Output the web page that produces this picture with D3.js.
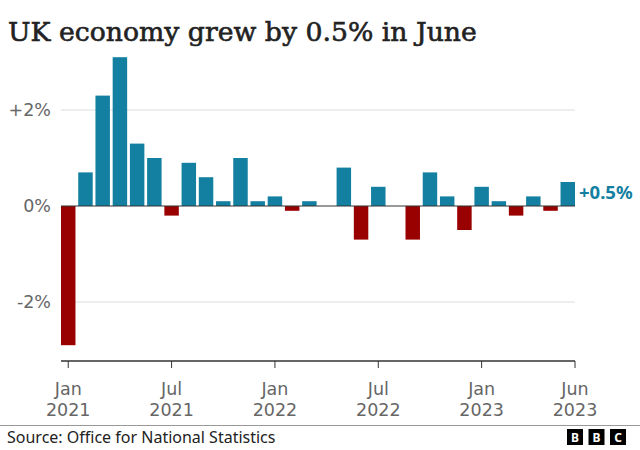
<!DOCTYPE html>
<html><head><meta charset="utf-8">
<script src="https://cdn.jsdelivr.net/npm/d3@7"></script>
<style>
html,body{margin:0;padding:0;background:#fff;}
svg{display:block;}
</style></head>
<body>
<svg id="chart" width="640" height="450"></svg>
<script>
// Monthly GDP growth, Jan 2021 – Jun 2023 (%)
const months = ["2021-01","2021-02","2021-03","2021-04","2021-05","2021-06","2021-07","2021-08","2021-09","2021-10","2021-11","2021-12",
                "2022-01","2022-02","2022-03","2022-04","2022-05","2022-06","2022-07","2022-08","2022-09","2022-10","2022-11","2022-12",
                "2023-01","2023-02","2023-03","2023-04","2023-05","2023-06"];
const growth = [-2.9, 0.7, 2.3, 3.1, 1.3, 1.0, -0.2, 0.9, 0.6, 0.1, 1.0, 0.1,
                0.2, -0.1, 0.1, 0.0, 0.8, -0.7, 0.4, 0.0, -0.7, 0.7, 0.2, -0.5,
                0.4, 0.1, -0.2, 0.2, -0.1, 0.5];
const yTicks = [2, 0, -2];
const yTickLabels = ["+2%", "0%", "-2%"];
const xTickMonths = ["2021-01","2021-07","2022-01","2022-07","2023-01","2023-06"];
const xTickMonthNames = ["Jan","Jul","Jan","Jul","Jan","Jun"];
const xTickYears = ["2021","2021","2022","2022","2023","2023"];
const titleText = "UK economy grew by 0.5% in June";
const sourceText = "Source: Office for National Statistics";
const lastLabel = "+0.5%";

const BLUE = "#1380A1", RED = "#990000";
const svg = d3.select("#chart");
const left = 61, right = 575;

const x = d3.scaleBand().domain(months).range([left, right]).paddingInner(0.16).paddingOuter(0);
const y = d3.scaleLinear().domain([-3, 3.1]).range([350, 57.2]);

// title
const title = svg.append("text").attr("x", 8).attr("y", 41)
  .attr("font-family", "DejaVu Serif").attr("font-size", 25).attr("fill", "#222")
  .attr("stroke", "#222").attr("stroke-width", 0.6)
  .text(titleText);
(function fit(){ const w = title.node().getComputedTextLength(); const target = 469;
  title.attr("font-size", 25 * target / w); })();

// gridlines
svg.append("g").selectAll("line").data(yTicks.filter(d => d !== 0)).join("line")
  .attr("x1", left).attr("x2", right).attr("y1", d => y(d)).attr("y2", d => y(d))
  .attr("stroke", "#dcdcdc").attr("stroke-width", 1);

// y labels
svg.append("g").selectAll("text").data(yTicks).join("text")
  .attr("x", 51).attr("y", d => y(d)).attr("dy", "0.36em").attr("text-anchor", "end")
  .attr("font-family", "DejaVu Sans").attr("font-size", 17.5).attr("fill", "#666")
  .text((d, i) => yTickLabels[i]);

// bars
svg.append("g").selectAll("rect").data(growth.map((v, i) => ({m: months[i], v}))).join("rect")
  .attr("x", d => x(d.m)).attr("width", x.bandwidth())
  .attr("y", d => y(Math.max(0, d.v))).attr("height", d => Math.abs(y(d.v) - y(0)))
  .attr("fill", d => d.v < 0 ? RED : BLUE);

// zero line
svg.append("line").attr("x1", left).attr("x2", right).attr("y1", y(0)).attr("y2", y(0))
  .attr("stroke", "#333").attr("stroke-width", 1);

// last value label
const lastM = months[months.length - 1];
svg.append("text").attr("x", x(lastM) + x.bandwidth() + 4).attr("y", y(growth[growth.length - 1] / 2) - 1)
  .attr("dy", "0.35em").attr("font-family", "Noto Sans").attr("font-weight", "bold")
  .attr("font-size", 18.5).attr("fill", BLUE).text(lastLabel);

// x axis
const tickX = (m, i) => i === xTickMonths.length - 1 ? right : x(m) + x.bandwidth() / 2;
const axisY = 361;
const xa = svg.append("g");
xa.append("line").attr("x1", left).attr("x2", right).attr("y1", axisY).attr("y2", axisY)
  .attr("stroke", "#333").attr("stroke-width", 1.5);
const tg = xa.selectAll("g").data(xTickMonths).join("g")
  .attr("transform", (m, i) => `translate(${tickX(m, i)},0)`);
tg.append("line").attr("y1", axisY).attr("y2", axisY + 7).attr("stroke", "#333").attr("stroke-width", 1);
tg.append("text").attr("text-anchor", "middle").attr("font-family", "DejaVu Sans").attr("font-size", 17.5).attr("fill", "#666")
  .attr("y", 395).text((m, i) => xTickMonthNames[i]);
tg.append("text").attr("text-anchor", "middle").attr("font-family", "DejaVu Sans").attr("font-size", 17.5).attr("fill", "#666")
  .attr("y", 416).text((m, i) => xTickYears[i]);

// footer
svg.append("line").attr("x1", 0).attr("x2", 640).attr("y1", 425.5).attr("y2", 425.5).attr("stroke", "#999").attr("stroke-width", 1);
svg.append("text").attr("x", 7).attr("y", 443).attr("font-family", "Noto Sans").attr("font-size", 16).attr("fill", "#222").text(sourceText);
const logo = svg.append("g").selectAll("g").data(["B","B","C"]).join("g")
  .attr("transform", (d, i) => `translate(${567 + i * 21.5},429)`);
logo.append("rect").attr("width", 16).attr("height", 16).attr("fill", "#000");
logo.append("text").attr("x", 8).attr("y", 13).attr("text-anchor", "middle").attr("font-family", "Noto Sans")
  .attr("font-weight", "bold").attr("font-size", 12).attr("fill", "#fff").text(d => d);
</script>
</body></html>
